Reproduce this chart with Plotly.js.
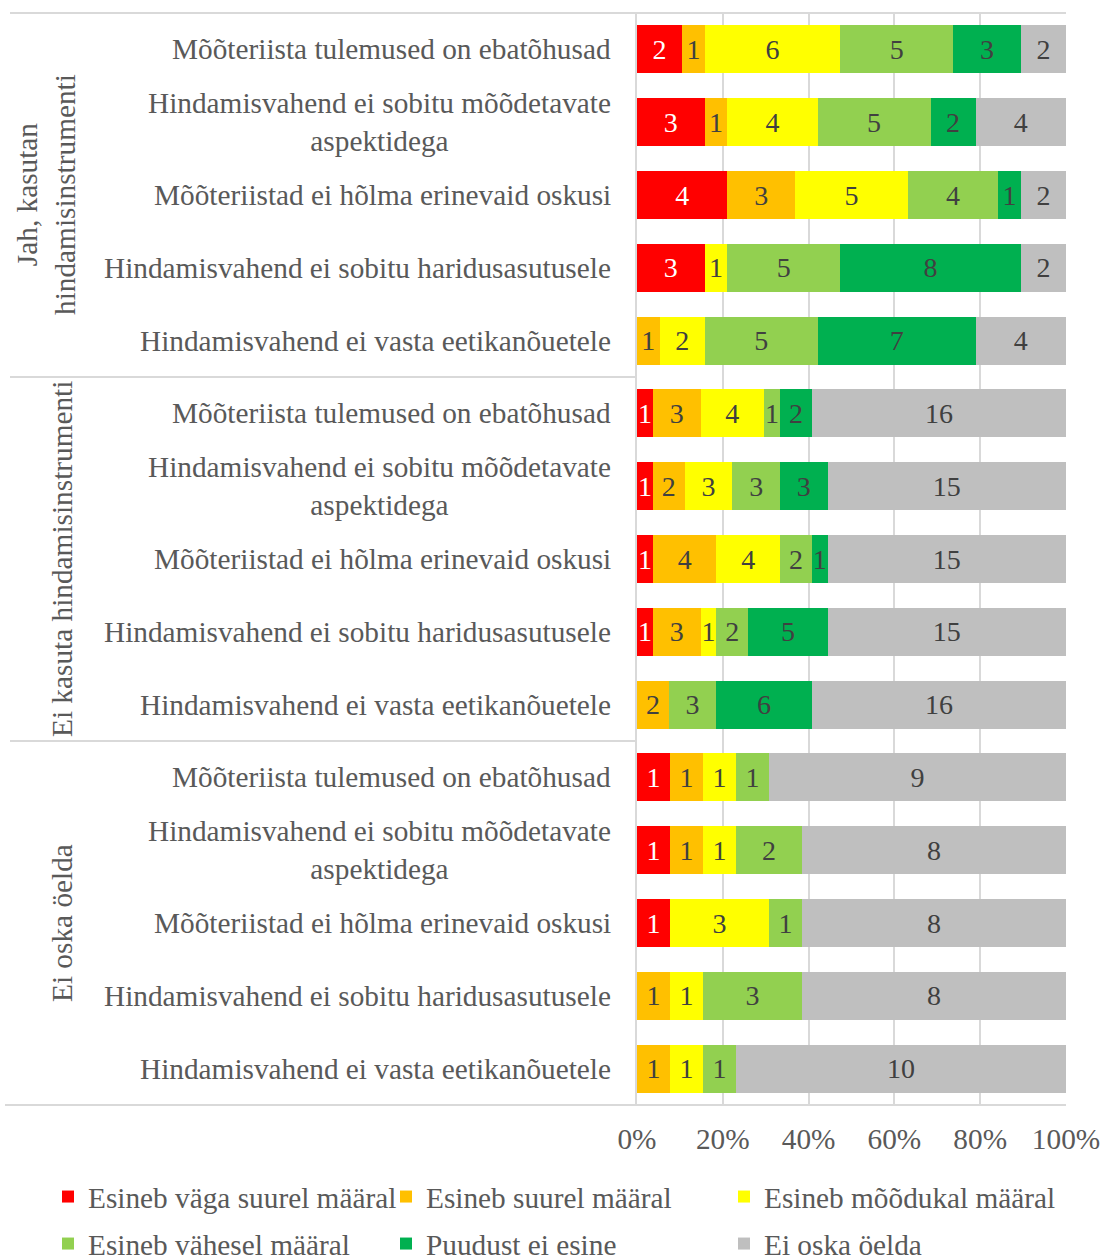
<!DOCTYPE html>
<html>
<head>
<meta charset="utf-8">
<script src="https://cdn.plot.ly/plotly-3.0.1.min.js"></script>
<style>html,body{margin:0;padding:0;background:#fff;}#chart{width:1104px;height:1257px;}</style>
</head>
<body>
<div id="chart"></div>
<script>
// ---- Data ----
const groups = ["Jah, kasutan<br>hindamisinstrumenti", "Ei kasuta hindamisinstrumenti", "Ei oska öelda"];
const statements = [
  "Mõõteriista tulemused on ebatõhusad",
  "Hindamisvahend ei sobitu mõõdetavate<br>aspektidega",
  "Mõõteriistad ei hõlma erinevaid oskusi",
  "Hindamisvahend ei sobitu haridusasutusele",
  "Hindamisvahend ei vasta eetikanõuetele"
];
const seriesNames = ["Esineb väga suurel määral", "Esineb suurel määral", "Esineb mõõdukal määral",
                     "Esineb vähesel määral", "Puudust ei esine", "Ei oska öelda"];
const veryLarge = [2,3,4,3,0, 1,1,1,1,0, 1,1,1,0,0];
const large     = [1,1,3,0,1, 3,2,4,3,2, 1,1,0,1,1];
const moderate  = [6,4,5,1,2, 4,3,4,1,0, 1,1,3,1,1];
const small     = [5,5,4,5,5, 1,3,2,2,3, 1,2,1,3,1];
const noneSeen  = [3,2,1,8,7, 2,3,1,5,6, 0,0,0,0,0];
const dontKnow  = [2,4,2,2,4, 16,15,15,15,16, 9,8,8,8,10];
const xTickVals = [0,20,40,60,80,100];
const xTickText = ["0%","20%","40%","60%","80%","100%"];

// ---- Styles ----
const colors = ["#FF0000","#FFC000","#FFFF00","#92D050","#00B050","#BFBFBF"];
const textColors = ["#FFFFFF","#404040","#404040","#404040","#404040","#404040"];
const FONT = '"Liberation Serif", "Times New Roman", "DejaVu Serif", serif';
const labelColor = "#595959";
const FS = 29.3;

const seriesValues = [veryLarge, large, moderate, small, noneSeen, dontKnow];
const yIds = [];
groups.forEach((g, gi) => statements.forEach((s, si) => yIds.push(gi + "|" + si)));

// legend placement (pixel left edge of each legend box, row centre)
const legendLeft = [48, 386, 724, 48, 386, 724];
const legendRowY = [1197, 1197, 1197, 1244, 1244, 1244];
const legendKeys = ["legend", "legend2", "legend3", "legend4", "legend5", "legend6"];

const traces = seriesValues.map((vals, k) => ({
  type: "bar",
  orientation: "h",
  name: seriesNames[k],
  y: yIds,
  x: vals,
  text: vals.map(v => v ? String(v) : ""),
  textposition: "inside",
  insidetextanchor: "middle",
  textangle: 0,
  constraintext: "none",
  insidetextfont: {family: FONT, size: 28, color: textColors[k]},
  marker: {color: colors[k], line: {width: 0}},
  hoverinfo: "skip",
  legend: legendKeys[k]
}));

const annotations = [];
yIds.forEach((id, i) => {
  const si = i % statements.length;
  annotations.push({
    xref: "paper", yref: "y", x: 0, y: id, xanchor: "right", yanchor: "middle",
    xshift: -24, text: statements[si], showarrow: false, align: "center",
    font: {family: FONT, size: FS, color: labelColor}
  });
});
const groupX = [46, 62, 62];
groups.forEach((g, gi) => {
  annotations.push({
    xref: "paper", yref: "y", x: (groupX[gi] - 637) / 429, y: yIds[gi * statements.length + 2],
    xanchor: "center", yanchor: "middle", textangle: -90, text: g, showarrow: false, align: "center",
    font: {family: FONT, size: FS, color: labelColor}
  });
});

const lineStyle = {color: "#D9D9D9", width: 2};
const leftX = (10 - 637) / 429;
const shapes = [
  {type: "line", xref: "paper", yref: "paper", x0: leftX, x1: 1, y0: 1, y1: 1, line: lineStyle},
  {type: "line", xref: "paper", yref: "paper", x0: (5 - 637) / 429, x1: 1, y0: 0, y1: 0, line: lineStyle},
  {type: "line", xref: "paper", yref: "y", x0: leftX, x1: 0, y0: 4.5, y1: 4.5, line: lineStyle},
  {type: "line", xref: "paper", yref: "y", x0: leftX, x1: 0, y0: 9.5, y1: 9.5, line: lineStyle}
];

const layout = {
  width: 1104, height: 1257,
  margin: {l: 637, r: 38, t: 13, b: 152, autoexpand: false},
  paper_bgcolor: "#FFFFFF", plot_bgcolor: "#FFFFFF",
  barmode: "stack", barnorm: "percent", bargap: 0.34,
  font: {family: FONT, color: labelColor},
  xaxis: {
    range: [0, 100], tickvals: xTickVals, ticktext: xTickText, tickangle: 0,
    showgrid: true, gridcolor: "#D9D9D9", gridwidth: 2,
    zeroline: false, showline: false, ticks: "", ticklabelstandoff: 14,
    tickfont: {family: FONT, size: FS, color: labelColor}, fixedrange: true
  },
  yaxis: {
    type: "category", autorange: "reversed", showticklabels: false,
    showgrid: false, zeroline: false, showline: true, linecolor: "#D9D9D9", linewidth: 2,
    ticks: "", fixedrange: true
  },
  showlegend: true,
  annotations: annotations,
  shapes: shapes
};
legendKeys.forEach((key, k) => {
  layout[key] = {
    orientation: "h", xref: "container", yref: "container",
    x: legendLeft[k] / 1104, y: 1 - legendRowY[k] / 1257,
    xanchor: "left", yanchor: "middle",
    font: {family: FONT, size: FS, color: labelColor},
    bgcolor: "rgba(0,0,0,0)", borderwidth: 0
  };
});

Plotly.newPlot("chart", traces, layout, {displayModeBar: false, staticPlot: true});
</script>
</body>
</html>
